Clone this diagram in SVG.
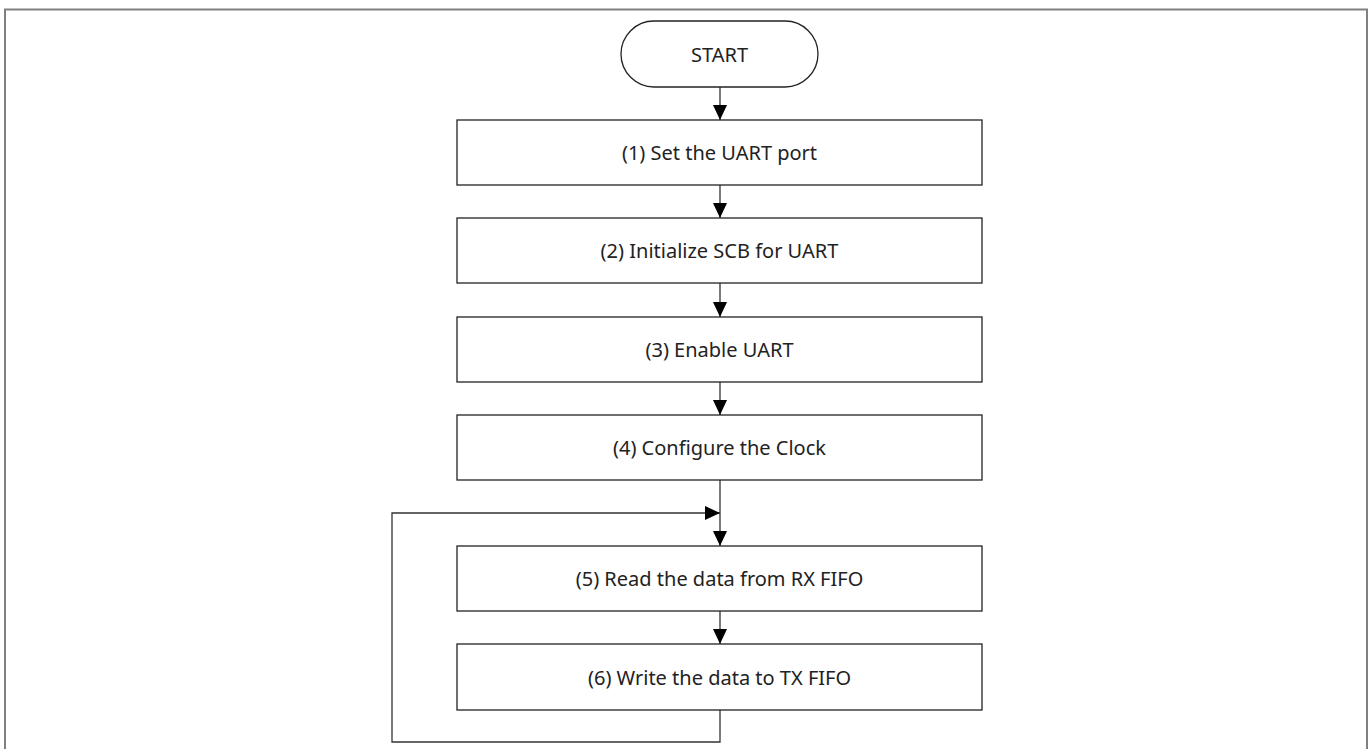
<svg xmlns="http://www.w3.org/2000/svg" width="1371" height="749" viewBox="0 0 1371 749">
<style>
.frame{fill:none;stroke:#808080;stroke-width:2}
.box{fill:#fff;stroke:#222;stroke-width:1.3}
.lbl{font-family:"Noto Sans",sans-serif;font-size:20px;fill:#222;text-anchor:middle;dominant-baseline:central}
.conn{fill:none;stroke:#333;stroke-width:1.3}
</style>
<defs>
<marker id="arr" viewBox="0 0 15 14" refX="15" refY="7" markerWidth="15" markerHeight="14" markerUnits="userSpaceOnUse" orient="auto">
<path d="M0,0 L15,7 L0,14 Z" fill="#000"/>
</marker>
</defs>
<rect class="frame" x="5" y="9.5" width="1362" height="760"/>
<g id="connectors">
<line class="conn" x1="720" y1="87" x2="720" y2="120" marker-end="url(#arr)"/>
<line class="conn" x1="720" y1="185" x2="720" y2="218" marker-end="url(#arr)"/>
<line class="conn" x1="720" y1="283" x2="720" y2="317" marker-end="url(#arr)"/>
<line class="conn" x1="720" y1="382" x2="720" y2="415" marker-end="url(#arr)"/>
<line class="conn" x1="720" y1="480" x2="720" y2="546" marker-end="url(#arr)"/>
<line class="conn" x1="720" y1="611" x2="720" y2="644" marker-end="url(#arr)"/>
<polyline class="conn" points="720,710 720,742 392,742 392,513 720,513" marker-end="url(#arr)"/>
</g>
<g id="start">
<rect class="box" x="621" y="21" width="197" height="66" rx="33" ry="33"/>
<text class="lbl" x="719.5" y="54">START</text>
</g>
<g id="step1">
<rect class="box" x="457" y="120" width="525" height="65"/>
<text class="lbl" x="719.5" y="152.5">(1) Set the UART port</text>
</g>
<g id="step2">
<rect class="box" x="457" y="218" width="525" height="65"/>
<text class="lbl" x="719.5" y="250.5">(2) Initialize SCB for UART</text>
</g>
<g id="step3">
<rect class="box" x="457" y="317" width="525" height="65"/>
<text class="lbl" x="719.5" y="349.5">(3) Enable UART</text>
</g>
<g id="step4">
<rect class="box" x="457" y="415" width="525" height="65"/>
<text class="lbl" x="719.5" y="447.5">(4) Configure the Clock</text>
</g>
<g id="step5">
<rect class="box" x="457" y="546" width="525" height="65"/>
<text class="lbl" x="719.5" y="578.5">(5) Read the data from RX FIFO</text>
</g>
<g id="step6">
<rect class="box" x="457" y="644" width="525" height="66"/>
<text class="lbl" x="719.5" y="677">(6) Write the data to TX FIFO</text>
</g>
</svg>
